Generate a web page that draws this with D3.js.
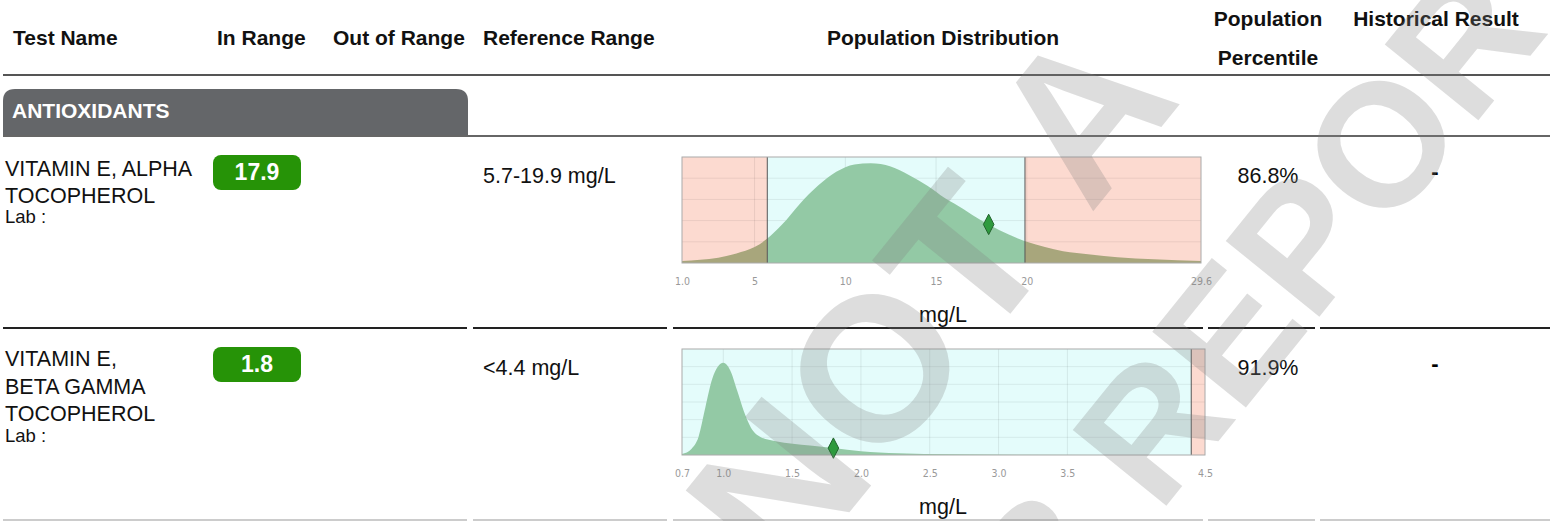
<!DOCTYPE html>
<html>
<head>
<meta charset="utf-8">
<script src="https://cdnjs.cloudflare.com/ajax/libs/d3/7.8.5/d3.min.js"></script>
<style>
body{margin:0;background:#fff;}
svg{display:block;font-family:"Liberation Sans",Arial,sans-serif;}
.head{font-weight:bold;font-size:21px;fill:#111;}
.txt{font-size:21.5px;fill:#111;}
.lab{font-size:18.5px;fill:#111;}
.eje text{font-family:"Liberation Sans Narrow","DejaVu Sans Condensed",sans-serif;font-size:10.5px;fill:#999;}
</style>
</head>
<body>
<div id="zona"></div>
<script>
//Datos de la tabla
var cabeceras = ["Test Name","In Range","Out of Range","Reference Range","Population Distribution","Population","Percentile","Historical Result"]
var seccion = "ANTIOXIDANTS"
var nombres = [["VITAMIN E, ALPHA","TOCOPHEROL"],["VITAMIN E,","BETA GAMMA","TOCOPHEROL"]]
var resultados = [17.9, 1.8]
var rangosTexto = ["5.7-19.9 mg/L","<4.4 mg/L"]
var rangoBajo = [5.7, null]
var rangoAlto = [19.9, 4.4]
var percentiles = ["86.8%","91.9%"]
var historico = ["-","-"]
var unidad = "mg/L"
var marcaAgua = ["NOT A","LAB REPORT"]

//Ejes de las distribuciones
var dominios = [[1.0,29.6],[0.7,4.5]]
var ticks1 = [1.0,5,10,15,20,29.6]
var etiquetas1 = ["1.0","5","10","15","20","29.6"]
var ticks2 = [0.7,1.0,1.5,2.0,2.5,3.0,3.5,4.5]
var etiquetas2 = ["0.7","1.0","1.5","2.0","2.5","3.0","3.5","4.5"]

//Curvas de densidad (altura relativa)
var densX1 = [1.0,2.0,3.0,4.0,5.0,5.7,6.5,7.5,8.5,9.5,10.5,11.4,12.5,13.5,14.5,15.5,16.5,17.5,18.5,20.0,21.0,22.0,23.5,25.0,27.0,29.6]
var densY1 = [0.02,0.03,0.05,0.09,0.15,0.23,0.36,0.56,0.73,0.86,0.93,0.94,0.91,0.83,0.73,0.61,0.51,0.40,0.31,0.20,0.15,0.11,0.08,0.055,0.035,0.02]
var densX2 = [0.70,0.77,0.82,0.87,0.92,1.00,1.05,1.10,1.15,1.20,1.27,1.38,1.63,1.80,2.00,2.27,2.65,3.2,4.5]
var densY2 = [0.01,0.06,0.17,0.45,0.72,0.87,0.80,0.61,0.41,0.26,0.17,0.13,0.09,0.065,0.035,0.016,0.006,0.002,0.0]

var width = 1556, height = 521

var svg = d3.select("#zona")
    .append("svg")
    .attr("width",width)
    .attr("height",height)

//Cabeceras
var posCab = [[13,45],[217,45],[333,45],[483,45],[943,45],[1268,26],[1268,65],[1436,26]]
svg.append("g")
    .selectAll("text")
    .data(cabeceras).enter()
    .append("text")
    .attr("class","head")
    .attr("x",(d,i)=>posCab[i][0])
    .attr("y",(d,i)=>posCab[i][1])
    .attr("text-anchor",(d,i)=> i>=4 ? "middle" : "start")
    .text(d=>d)

svg.append("line")
    .attr("x1",3).attr("x2",1550).attr("y1",75).attr("y2",75)
    .attr("stroke","#555").attr("stroke-width",2)

//Seccion
svg.append("path")
    .attr("d","M3,136 V101 Q3,89 15,89 H456 Q468,89 468,101 V136 Z")
    .attr("fill","#646669")
svg.append("line")
    .attr("x1",3).attr("x2",1550).attr("y1",136).attr("y2",136)
    .attr("stroke","#666").attr("stroke-width",2)
svg.append("text")
    .attr("x",12).attr("y",118)
    .attr("fill","#fff")
    .style("font-weight","bold").style("font-size","21px")
    .text(seccion)

//Filas
var filas = [
    {top:157, bottom:263, sep:328, lineas:[176,203], lab:223, escalaDom:dominios[0], ticks:ticks1, etiquetas:etiquetas1, dx:densX1, dy:densY1, rango:[682,1201], grid:5},
    {top:349, bottom:455, sep:520, lineas:[366,394,421], lab:442, escalaDom:dominios[1], ticks:ticks2, etiquetas:etiquetas2, dx:densX2, dy:densY2, rango:[682,1205], grid:6}
]

var defs = svg.append("defs")

filas.forEach((f,i)=>{
    var rowTop = f.top - 2
    var g = svg.append("g")

    //Nombre del test
    g.selectAll(".nombre")
        .data(nombres[i]).enter()
        .append("text")
        .attr("class","txt")
        .attr("x",5)
        .attr("y",(d,j)=>f.lineas[j])
        .text(d=>d)
    g.append("text").attr("class","lab").attr("x",5).attr("y",f.lab).text("Lab :")

    //Resultado
    g.append("rect")
        .attr("x",213).attr("y",rowTop).attr("width",88).attr("height",35).attr("rx",8)
        .attr("fill","#269307")
    g.append("text")
        .attr("x",257).attr("y",rowTop+25)
        .attr("text-anchor","middle")
        .attr("fill","#fff")
        .style("font-weight","bold").style("font-size","23px")
        .text(resultados[i])

    g.append("text").attr("class","txt").attr("x",483).attr("y",rowTop+28).text(rangosTexto[i])
    g.append("text").attr("class","txt").attr("x",1268).attr("y",rowTop+28).attr("text-anchor","middle").text(percentiles[i])
    g.append("text").attr("x",1435).attr("y",rowTop+24).attr("text-anchor","middle")
        .style("font-weight","bold").style("font-size","22px").text(historico[i])

    //Escalas
    var x = d3.scaleLinear().domain(f.escalaDom).range(f.rango)
    var y = d3.scaleLinear().domain([0,1]).range([f.bottom,f.top])
    var dmin = f.escalaDom[0], dmax = f.escalaDom[1]
    var lo = rangoBajo[i] == null ? dmin : rangoBajo[i]
    var hi = rangoAlto[i] == null ? dmax : rangoAlto[i]

    //Fondos
    var zonas = [[dmin,lo,"#fcdad0"],[lo,hi,"#e4fcfb"],[hi,dmax,"#fcdad0"]].filter(z=>z[1]>z[0])
    g.selectAll(".zona")
        .data(zonas).enter()
        .append("rect")
        .attr("x",d=>x(d[0]))
        .attr("width",d=>x(d[1])-x(d[0]))
        .attr("y",f.top).attr("height",f.bottom-f.top)
        .attr("fill",d=>d[2])

    //Rejilla
    g.selectAll(".gh")
        .data(d3.range(1,f.grid)).enter()
        .append("line")
        .attr("x1",f.rango[0]).attr("x2",f.rango[1])
        .attr("y1",d=>f.top+(f.bottom-f.top)*d/f.grid)
        .attr("y2",d=>f.top+(f.bottom-f.top)*d/f.grid)
        .attr("stroke","rgba(0,0,0,0.07)")
    g.selectAll(".gv")
        .data(f.ticks.slice(1,-1)).enter()
        .append("line")
        .attr("x1",d=>x(d)).attr("x2",d=>x(d))
        .attr("y1",f.top).attr("y2",f.bottom)
        .attr("stroke","rgba(0,0,0,0.08)")

    //Curva de densidad
    var datos = f.dx.map((v,j)=>({v:v,d:f.dy[j]}))
    var area = d3.area()
        .x(d=>x(d.v))
        .y0(f.bottom)
        .y1(d=>y(d.d))
        .curve(d3.curveMonotoneX)

    var clipIn = defs.append("clipPath").attr("id","dentro"+i)
    clipIn.append("rect").attr("x",x(lo)).attr("width",x(hi)-x(lo)).attr("y",f.top).attr("height",f.bottom-f.top)
    var clipOut = defs.append("clipPath").attr("id","fuera"+i)
    zonas.filter(z=>z[2]=="#fcdad0").forEach(z=>{
        clipOut.append("rect").attr("x",x(z[0])).attr("width",x(z[1])-x(z[0])).attr("y",f.top).attr("height",f.bottom-f.top)
    })

    g.append("path").attr("d",area(datos)).attr("fill","#93c9a5").attr("clip-path","url(#dentro"+i+")")
    g.append("path").attr("d",area(datos)).attr("fill","#a8a67c").attr("clip-path","url(#fuera"+i+")")

    //Lineas del rango de referencia
    g.selectAll(".ref")
        .data([rangoBajo[i],rangoAlto[i]].filter(d=>d!=null)).enter()
        .append("line")
        .attr("x1",d=>x(d)).attr("x2",d=>x(d))
        .attr("y1",f.top).attr("y2",f.bottom)
        .attr("stroke","#555").attr("stroke-width",1)

    g.append("rect")
        .attr("x",f.rango[0]).attr("y",f.top)
        .attr("width",f.rango[1]-f.rango[0]).attr("height",f.bottom-f.top)
        .attr("fill","none").attr("stroke","#aaa")

    //Marcador del resultado
    var yRes = y(d3.scaleLinear().domain(f.dx).range(f.dy)(resultados[i]))
    g.append("path")
        .attr("d",d3.symbol(d3.symbolDiamond,120)())
        .attr("transform","translate("+x(resultados[i])+","+yRes+") scale(0.9,1)")
        .attr("fill","#2e9a3e").attr("stroke","#1d5e28")

    //Eje X
    var ejeX = d3.axisBottom(x)
        .tickValues(f.ticks)
        .tickFormat((d,j)=>f.etiquetas[j])
        .tickSize(0)
        .tickPadding(15)
    g.append("g")
        .attr("class","eje")
        .attr("transform","translate(0,"+f.bottom+")")
        .call(ejeX)
        .call(a=>a.select(".domain").remove())

    g.append("text").attr("class","txt").attr("x",943).attr("y",f.bottom+59).attr("text-anchor","middle").text(unidad)

    //Separadores
    var segs = [[3,467],[473,667],[673,1203],[1208,1315],[1320,1550]]
    g.selectAll(".sep")
        .data(segs).enter()
        .append("line")
        .attr("x1",d=>d[0]).attr("x2",d=>d[1])
        .attr("y1",f.sep).attr("y2",f.sep)
        .attr("stroke", i==0 ? "#222" : "#ccc").attr("stroke-width",2)
})

//Marca de agua
var posMarca = [[985,345],[1260,390]]
var tamMarca = [205,175]
svg.append("g")
    .style("pointer-events","none")
    .selectAll("text")
    .data(marcaAgua).enter()
    .append("text")
    .attr("transform",(d,i)=>"translate("+posMarca[i][0]+","+posMarca[i][1]+") rotate(-51)")
    .attr("text-anchor","middle")
    .attr("fill","#808080").attr("fill-opacity",0.27)
    .style("font-weight","bold").style("font-size",(d,i)=>tamMarca[i]+"px")
    .text(d=>d)
</script>
</body>
</html>
